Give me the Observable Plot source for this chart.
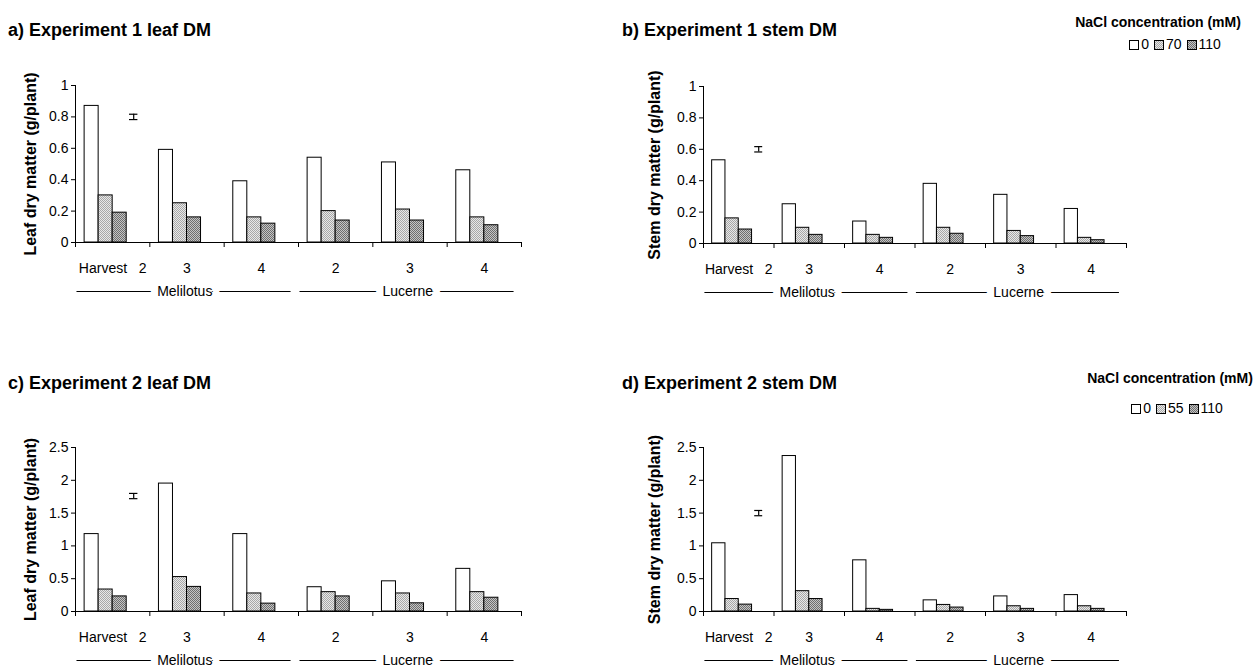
<!DOCTYPE html>
<html><head><meta charset="utf-8">
<script src="https://cdn.jsdelivr.net/npm/d3@7"></script>
<script src="https://cdn.jsdelivr.net/npm/@observablehq/plot@0.6"></script>
<style>
body{margin:0;background:#fff;width:1259px;height:669px;overflow:hidden;position:relative;font-family:"Liberation Sans",Arial,sans-serif;color:#000;}
.panel{position:absolute;}
.title{position:absolute;font-weight:bold;font-size:18px;line-height:20px;white-space:nowrap;}
.leg{position:absolute;width:240px;text-align:center;font-size:14px;line-height:18px;white-space:nowrap;}
.leg.t{font-weight:bold;}
.sw{display:inline-block;width:10px;height:10px;border:1px solid #000;vertical-align:-1px;margin:0 2px 0 5px;box-sizing:border-box;}
.sw0{background:#fff;}
.sw1{background:repeating-conic-gradient(#a8a8a8 0 25%, #e8e8e8 0 50%) 0 0/2px 2px;}
.sw2{background:repeating-conic-gradient(#6e6e6e 0 25%, #c4c4c4 0 50%) 0 0/2px 2px;}
</style></head>
<body>
<svg width="0" height="0" style="position:absolute;left:0;top:0">
<defs>
<pattern id="pLight" width="2" height="2" patternUnits="userSpaceOnUse">
<rect width="2" height="2" fill="#e8e8e8"/><rect width="1" height="1" fill="#a8a8a8"/><rect x="1" y="1" width="1" height="1" fill="#a8a8a8"/>
</pattern>
<pattern id="pDark" width="2" height="2" patternUnits="userSpaceOnUse">
<rect width="2" height="2" fill="#c4c4c4"/><rect width="1" height="1" fill="#6e6e6e"/><rect x="1" y="1" width="1" height="1" fill="#6e6e6e"/>
</pattern>
</defs></svg>

<div class="title" style="left:8px;top:20px">a) Experiment 1 leaf DM</div>
<div class="title" style="left:622px;top:20px">b) Experiment 1 stem DM</div>
<div class="title" style="left:8px;top:373px">c) Experiment 2 leaf DM</div>
<div class="title" style="left:622px;top:373px">d) Experiment 2 stem DM</div>
<div id="legA"></div>
<div id="legB"></div>
<div id="pa" class="panel" style="left:0px;top:0px"></div>
<div id="pb" class="panel" style="left:620px;top:0px"></div>
<div id="pc" class="panel" style="left:0px;top:340px"></div>
<div id="pd" class="panel" style="left:620px;top:340px"></div>

<script>
// ---------- data ----------
const groups = ["Harvest\u00a0\u00a0\u00a02", "3", "4", "2", "3", "4"];
const speciesNames = ["Melilotus", "Lucerne"];
const speciesFirstGroup = [0, 3];
const speciesLastGroup = [2, 5];
const legendTitle = "NaCl concentration (mM)";
const exp1Conc = ["0", "70", "110"];
const exp2Conc = ["0", "55", "110"];

// Experiment 1 leaf DM (g/plant)
const aLeaf0   = [0.87, 0.59, 0.39, 0.54, 0.51, 0.46];
const aLeaf70  = [0.30, 0.25, 0.16, 0.20, 0.21, 0.16];
const aLeaf110 = [0.19, 0.16, 0.12, 0.14, 0.14, 0.11];
// Experiment 1 stem DM
const bStem0   = [0.53, 0.25, 0.14, 0.38, 0.31, 0.22];
const bStem70  = [0.16, 0.10, 0.055, 0.10, 0.08, 0.036];
const bStem110 = [0.089, 0.055, 0.036, 0.062, 0.047, 0.021];
// Experiment 2 leaf DM
const cLeaf0   = [1.18, 1.95, 1.18, 0.37, 0.46, 0.65];
const cLeaf55  = [0.335, 0.525, 0.275, 0.295, 0.275, 0.295];
const cLeaf110 = [0.23, 0.375, 0.12, 0.23, 0.125, 0.21];
// Experiment 2 stem DM
const dStem0   = [1.04, 2.37, 0.78, 0.17, 0.23, 0.25];
const dStem55  = [0.19, 0.31, 0.04, 0.10, 0.08, 0.08];
const dStem110 = [0.105, 0.19, 0.025, 0.06, 0.04, 0.04];

// LSD error bars (centre, half length) for panels a–d
const lsdCentre = [0.8, 0.6, 1.76, 1.5];
const lsdHalf   = [0.017, 0.017, 0.04, 0.04];

const yTicks1 = [0, 0.2, 0.4, 0.6, 0.8, 1];
const yTicks2 = [0, 0.5, 1, 1.5, 2, 2.5];
const yLabels = ["Leaf dry matter (g/plant)", "Stem dry matter (g/plant)", "Leaf dry matter (g/plant)", "Stem dry matter (g/plant)"];

// ---------- drawing ----------
const fills = ["white", "url(#pLight)", "url(#pDark)"];
const slots = 4;        // 3 concentrations + LSD slot
const pad = 0.65;       // outer padding (in bar widths) inside each group
const bw = 1 / (slots + 2 * pad);

function panel(el, {width, height, mL, mR, mT, mB, series, ticks, yLabel, lsdC, lsdH, labelDx}) {
  const marks = [];
  series.forEach((vals, s) => {
    const rows = vals.map((v, g) => ({g, v}));
    marks.push(Plot.rectY(rows, {
      x1: d => d.g + (pad + s) * bw,
      x2: d => d.g + (pad + s + 1) * bw,
      y: "v",
      fill: fills[s], stroke: "black", strokeWidth: 1
    }));
  });
  // LSD bar in 4th slot of first group
  const ex = (pad + 3.5) * bw;
  marks.push(Plot.ruleX([lsdC], {x: ex, y1: d => d - lsdH, y2: d => d + lsdH, stroke: "black", strokeWidth: 1.2}));
  marks.push(Plot.ruleY([lsdC - lsdH, lsdC + lsdH], {x1: ex - 0.3 * bw, x2: ex + 0.3 * bw, stroke: "black", strokeWidth: 1.2}));
  // axes
  marks.push(Plot.ruleX([0], {y1: 0, y2: ticks[ticks.length - 1], stroke: "black"}));
  marks.push(Plot.ruleY([0], {stroke: "black"}));
  marks.push(Plot.axisY({ticks, tickFormat: d => String(d), tickSize: 4, tickPadding: 3, label: null, fontSize: 14, fill: "black", stroke: "black"}));
  marks.push(Plot.axisX({ticks: d3.range(groups.length + 1), tickFormat: () => "", tickSize: 5, label: null, stroke: "black"}));
  // y label
  marks.push(Plot.text([yLabel], {frameAnchor: "left", dx: labelDx, rotate: -90, textAnchor: "middle", lineAnchor: "middle", text: d => d, fontSize: 16, fontWeight: "bold", fill: "black"}));
  // group labels
  marks.push(Plot.text(groups, {x: (d, i) => i + 0.5, y: 0, dy: 26, text: d => d, fontSize: 14, fill: "black"}));
  // species rules + labels
  const sp = speciesNames.map((n, i) => ({n, a: speciesFirstGroup[i], b: speciesLastGroup[i] + 1}));
  marks.push(Plot.ruleY(sp, {y: 0, dy: 49, x1: d => d.a + 0.02, x2: d => d.b - 0.1, stroke: "black"}));
  marks.push(Plot.text(sp, {x: d => (d.a + d.b) / 2 - 0.03, y: 0, dy: 49, text: "n", fontSize: 14, fill: "black", stroke: "white", strokeWidth: 15, paintOrder: "stroke"}));

  const p = Plot.plot({
    width, height,
    marginLeft: mL, marginRight: mR, marginTop: mT, marginBottom: mB,
    x: {type: "linear", domain: [0, groups.length], axis: null},
    y: {domain: [0, ticks[ticks.length - 1]], axis: null},
    style: {fontFamily: "Liberation Sans, Arial, sans-serif", fontSize: "14px", color: "black", background: "transparent", overflow: "visible"},
    marks
  });
  document.getElementById(el).appendChild(p);
}

panel("pa", {width: 540, height: 310, mL: 75, mR: 19, mT: 85, mB: 68, series: [aLeaf0, aLeaf70, aLeaf110], ticks: yTicks1, yLabel: yLabels[0], lsdC: lsdCentre[0], lsdH: lsdHalf[0], labelDx: -45});
panel("pb", {width: 530, height: 310, mL: 83, mR: 24, mT: 86, mB: 67, series: [bStem0, bStem70, bStem110], ticks: yTicks1, yLabel: yLabels[1], lsdC: lsdCentre[1], lsdH: lsdHalf[1], labelDx: -49});
panel("pc", {width: 540, height: 329, mL: 75, mR: 19, mT: 107, mB: 58, series: [cLeaf0, cLeaf55, cLeaf110], ticks: yTicks2, yLabel: yLabels[2], lsdC: lsdCentre[2], lsdH: lsdHalf[2], labelDx: -45});
panel("pd", {width: 530, height: 329, mL: 83, mR: 24, mT: 107, mB: 58, series: [dStem0, dStem55, dStem110], ticks: yTicks2, yLabel: yLabels[3], lsdC: lsdCentre[3], lsdH: lsdHalf[3], labelDx: -49});

// legends
function legend(id, cxTitle, yTitle, cxItems, yItems, conc) {
  const host = document.getElementById(id);
  const t = document.createElement("div");
  t.className = "leg t";
  t.style.left = (cxTitle - 120) + "px";
  t.style.top = (yTitle - 9) + "px";
  t.textContent = legendTitle;
  host.appendChild(t);
  const it = document.createElement("div");
  it.className = "leg";
  it.style.left = (cxItems - 120) + "px";
  it.style.top = (yItems - 9) + "px";
  conc.forEach((c, i) => {
    const sw = document.createElement("span");
    sw.className = "sw sw" + i;
    if (i === 0) sw.style.marginLeft = "0";
    it.appendChild(sw);
    it.appendChild(document.createTextNode(c));
  });
  host.appendChild(it);
}
legend("legA", 1158, 22, 1175, 44, exp1Conc);
legend("legB", 1170, 378, 1177, 408, exp2Conc);
</script>
</body></html>
